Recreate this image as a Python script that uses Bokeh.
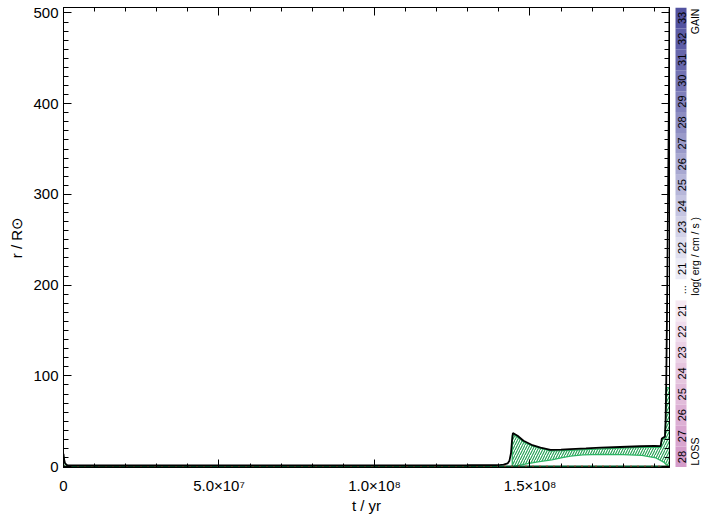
import math
from bokeh.plotting import figure
from bokeh.models import Range1d, FixedTicker, LinearAxis, ColumnDataSource, CustomJSTickFormatter
from bokeh.layouts import row
from bokeh.embed import file_html
from bokeh.resources import INLINE
from bokeh.core.properties import value

# ---------------- data ----------------
# stellar radius (black line)
t_radius = [0, 2e5, 5e5, 1.2e6, 1e7, 5e7, 1e8, 1.3e8, 1.39e8, 1.405e8, 1.415e8,
            1.428e8, 1.434e8, 1.439e8, 1.442e8, 1.445e8, 1.46e8, 1.479e8, 1.505e8,
            1.534e8, 1.566e8, 1.60e8, 1.63e8, 1.68e8, 1.727e8, 1.79e8, 1.855e8,
            1.90e8, 1.920e8, 1.924e8, 1.934e8, 1.936e8, 1.938e8, 1.940e8, 1.942e8,
            1.944e8, 1.9465e8, 1.9486e8]
r_radius = [14, 8, 3.5, 1.5, 1.2, 1.3, 1.4, 1.5, 1.6, 1.8, 2.2,
            3.5, 6.5, 15, 28, 37, 34, 28.5, 24,
            21, 18.5, 18.8, 19.3, 20.0, 20.8, 21.6, 22.4,
            22.9, 22.5, 31, 33, 50, 90, 150, 220,
            300, 400, 505]

# convective envelope (green hatched) - upper and lower boundaries
t_env_top = [1.443e8, 1.447e8, 1.46e8, 1.479e8, 1.505e8, 1.534e8, 1.566e8, 1.60e8,
             1.63e8, 1.68e8, 1.727e8, 1.79e8, 1.855e8, 1.90e8, 1.920e8, 1.924e8,
             1.934e8, 1.936e8, 1.938e8, 1.9486e8]
r_env_top = [34, 35.5, 32.5, 27, 23, 20, 17.3, 17.6,
             18.0, 18.8, 19.6, 20.4, 21.2, 21.6, 21.0, 29.5,
             31.5, 48, 87, 87]
t_env_bot = [1.9486e8, 1.94e8, 1.93e8, 1.905e8, 1.86e8, 1.80e8, 1.73e8, 1.67e8,
             1.63e8, 1.60e8, 1.57e8, 1.53e8, 1.48e8, 1.443e8]
r_env_bot = [0, 1.5, 5, 9.5, 12.3, 13.3, 13.5, 13,
             11.5, 9.5, 7.5, 5.5, 2.5, 0]

# small convective region at the start
t_env0 = [0, 0, 3e5, 1.2e6]
r_env0 = [0, 12, 5, 0]

# core boundaries near r = 0
t_core = [0, 1.9486e8]
r_core = [0.0, 0.0]
t_burn = [0, 1.9486e8]
r_burn = [0.6, 0.6]

# axis ticks
x_ticks = [0, 50000000, 100000000, 150000000]
x_tick_labels = ["0", "5.0×10⁷", "1.0×10⁸", "1.5×10⁸"]
y_ticks = [0, 100, 200, 300, 400, 500]

# colour bar labels (bottom to top): loss 28..21, gap, gain 21..33
cb_labels = ["28", "27", "26", "25", "24", "23", "22", "21", "...",
             "21", "22", "23", "24", "25", "26", "27", "28", "29", "30", "31", "32", "33"]
cb_colors = ["#d49cca", "#d8a5cf", "#dcafd4", "#e1bbda", "#e6c6df", "#ebd2e6", "#f0dded", "#f5e9f2",
             "#ffffff",
             "#ececf6", "#dfdfef", "#d2d2e8", "#c4c4e1", "#b6b6d9", "#a8a8d1", "#9a9ac9",
             "#8d8dc2", "#8080bb", "#7373b3", "#6767ac", "#5c5ca6", "#5252a0"]

FONT = "Liberation Sans"
X_MAX = 1.9486e8
TOP = 7

# ---------------- main plot ----------------
p = figure(frame_width=606, frame_height=460,
           x_range=Range1d(0, X_MAX), y_range=Range1d(-1, 506),
           output_backend="svg", toolbar_location=None,
           min_border_left=63, min_border_top=TOP, min_border_right=3, min_border_bottom=0,
           background_fill_color="white", border_fill_color="white")
p.xgrid.visible = False
p.ygrid.visible = False
p.outline_line_color = "black"
p.outline_line_width = 1

xminor = [i * 1e7 for i in range(0, 20)]
yminor = [i * 10 for i in range(0, 51)]

p.xaxis.ticker = FixedTicker(ticks=x_ticks, minor_ticks=xminor)
p.xaxis.major_label_overrides = dict(zip(x_ticks, x_tick_labels))
p.yaxis.ticker = FixedTicker(ticks=y_ticks, minor_ticks=yminor)

for ax in (p.xaxis[0], p.yaxis[0]):
    ax.major_tick_in = 8
    ax.major_tick_out = 0
    ax.minor_tick_in = 5
    ax.minor_tick_out = 0
    ax.axis_line_color = "black"
    ax.major_tick_line_color = "black"
    ax.minor_tick_line_color = "black"
    ax.major_label_text_font = FONT
    ax.major_label_text_font_size = "15px"
    ax.major_label_text_color = "black"
    ax.axis_label_text_font = FONT
    ax.axis_label_text_font_size = "15px"
    ax.axis_label_text_font_style = "normal"
    ax.axis_label_text_color = "black"

p.xaxis.minor_tick_in = 4
p.xaxis.axis_label = "t / yr"
p.xaxis.major_label_standoff = 9
p.xaxis.axis_label_standoff = 0
p.yaxis.axis_label = "r / R⊙"
p.yaxis.major_label_standoff = 5
p.yaxis.axis_label_standoff = 5

empty = CustomJSTickFormatter(code="return ''")
top_ax = LinearAxis(ticker=FixedTicker(ticks=x_ticks, minor_ticks=xminor), formatter=empty,
                    major_tick_in=8, major_tick_out=0, minor_tick_in=4, minor_tick_out=0,
                    major_label_text_font_size="0px", major_label_standoff=0,
                    axis_line_color="black")
right_ax = LinearAxis(ticker=FixedTicker(ticks=y_ticks, minor_ticks=yminor), formatter=empty,
                      major_tick_in=8, major_tick_out=0, minor_tick_in=5, minor_tick_out=0,
                      major_label_text_font_size="0px", major_label_standoff=0,
                      axis_line_color="black")
p.add_layout(top_ax, "above")
p.add_layout(right_ax, "right")

# convective envelope hatch
env_t = t_env_top + t_env_bot
env_r = r_env_top + r_env_bot
p.patch(env_t, env_r, fill_alpha=0, hatch_pattern="/", hatch_color="#1f9e50",
        hatch_scale=5, hatch_weight=1.1, line_color="#2db565", line_width=1.3)
p.patch(t_env0, r_env0, fill_alpha=0, hatch_pattern="/", hatch_color="#1f9e50",
        hatch_scale=5, hatch_weight=1.1, line_color="#2db565", line_width=1.0)

p.line(t_core, r_core, line_color="#00552a", line_width=2)
p.line(t_burn, r_burn, line_color="#e02020", line_width=1.2, line_dash="1 6")
p.line(t_radius, r_radius, line_color="black", line_width=1.8)

# ---------------- colour bar ----------------
n = len(cb_labels)
cb = figure(frame_width=31, frame_height=460,
            x_range=Range1d(672, 703), y_range=Range1d(0, n),
            output_backend="svg", toolbar_location=None,
            min_border_left=0, min_border_right=0, min_border_top=TOP, min_border_bottom=0,
            x_axis_location=None, y_axis_location=None,
            background_fill_color="white", border_fill_color="white")
cb.outline_line_color = None
cb.xgrid.visible = False
cb.ygrid.visible = False

idx = list(range(n))
src = ColumnDataSource(dict(bottom=idx, top=[i + 1 for i in idx],
                            mid=[i + 0.5 for i in idx], color=cb_colors, label=cb_labels))
cb.quad(left=675, right=686, bottom="bottom", top="top", fill_color="color",
        line_color=None, source=src)
cb.text(x=681, y="mid", text="label", angle=math.pi / 2, text_align="center",
        text_baseline="middle", text_font=value(FONT), text_font_size="11px",
        text_color="black", source=src)
cb.text(x=[694], y=[0.1], text=["LOSS"], angle=math.pi / 2, text_align="left",
        text_baseline="middle", text_font=value(FONT), text_font_size="10.5px", text_color="black")
cb.text(x=[694], y=[n - 0.05], text=["GAIN"], angle=math.pi / 2, text_align="right",
        text_baseline="middle", text_font=value(FONT), text_font_size="10.5px", text_color="black")
cb.text(x=[694], y=[10.1], text=["log( erg / cm / s )"], angle=math.pi / 2, text_align="center",
        text_baseline="middle", text_font=value(FONT), text_font_size="10.5px", text_color="black")

layout = row(p, cb)
open("out.html", "w").write(file_html(layout, INLINE))
